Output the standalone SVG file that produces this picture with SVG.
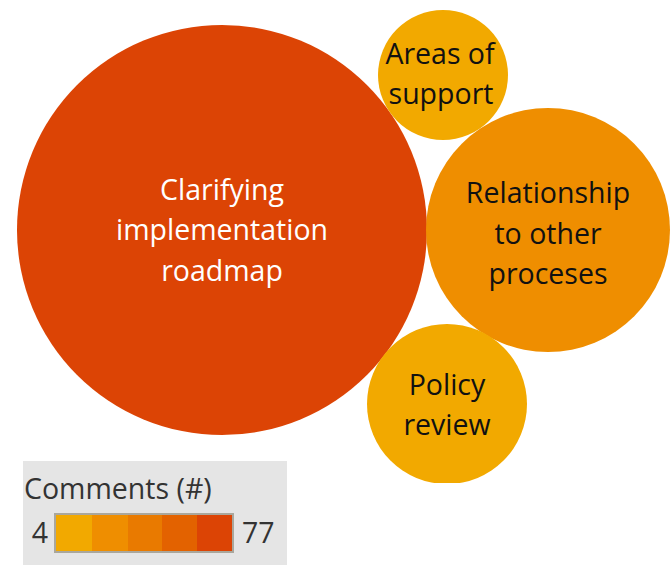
<svg xmlns="http://www.w3.org/2000/svg" width="672" height="565" viewBox="0 0 672 565">
<style>
.lbl{font-family:"Open Sans","Noto Sans",sans-serif;font-size:28.5px;text-anchor:middle}
.dark{fill:#111111}
.light{fill:#ffffff}
.leg{font-family:"Open Sans","Noto Sans",sans-serif;font-size:28.5px;fill:#333333}
</style>
<defs>
<clipPath id="clip"><rect x="0" y="0" width="672" height="483"/></clipPath>
</defs>
<rect width="672" height="565" fill="#ffffff"/>
<g clip-path="url(#clip)">
<g id="node-clarifying">
<circle cx="222" cy="230" r="205" fill="#dc4405"/>
<text class="lbl light" x="222" y="200">Clarifying</text>
<text class="lbl light" x="222" y="240">implementation</text>
<text class="lbl light" x="222" y="281">roadmap</text>
</g>
<g id="node-areas">
<circle cx="443" cy="75" r="65" fill="#f2a900"/>
<text class="lbl dark" x="440" y="64">Areas of</text>
<text class="lbl dark" x="441" y="104">support</text>
</g>
<g id="node-relationship">
<circle cx="548" cy="230" r="122" fill="#ef8e00"/>
<text class="lbl dark" x="548" y="203">Relationship</text>
<text class="lbl dark" x="548" y="244">to other</text>
<text class="lbl dark" x="548" y="284">proceses</text>
</g>
<g id="node-policy">
<circle cx="447" cy="404" r="80" fill="#f2a900"/>
<text class="lbl dark" x="447" y="395">Policy</text>
<text class="lbl dark" x="447" y="435">review</text>
</g>
</g>
<g id="connectors"/>
<g id="legend">
<rect x="23" y="461" width="264" height="104" fill="#e5e5e5"/>
<text class="leg" x="24" y="499">Comments (#)</text>
<text class="leg" x="40" y="543" text-anchor="middle">4</text>
<rect x="55" y="514" width="37" height="38" fill="#f2a900"/>
<rect x="92" y="514" width="36" height="38" fill="#ef8e00"/>
<rect x="128" y="514" width="34" height="38" fill="#e97a00"/>
<rect x="162" y="514" width="35" height="38" fill="#e36200"/>
<rect x="197" y="514" width="36" height="38" fill="#dc4405"/>
<rect x="55" y="514" width="178" height="38" fill="none" stroke="#aaa79c" stroke-width="2"/>
<text class="leg" x="242" y="543">77</text>
</g>
</svg>
